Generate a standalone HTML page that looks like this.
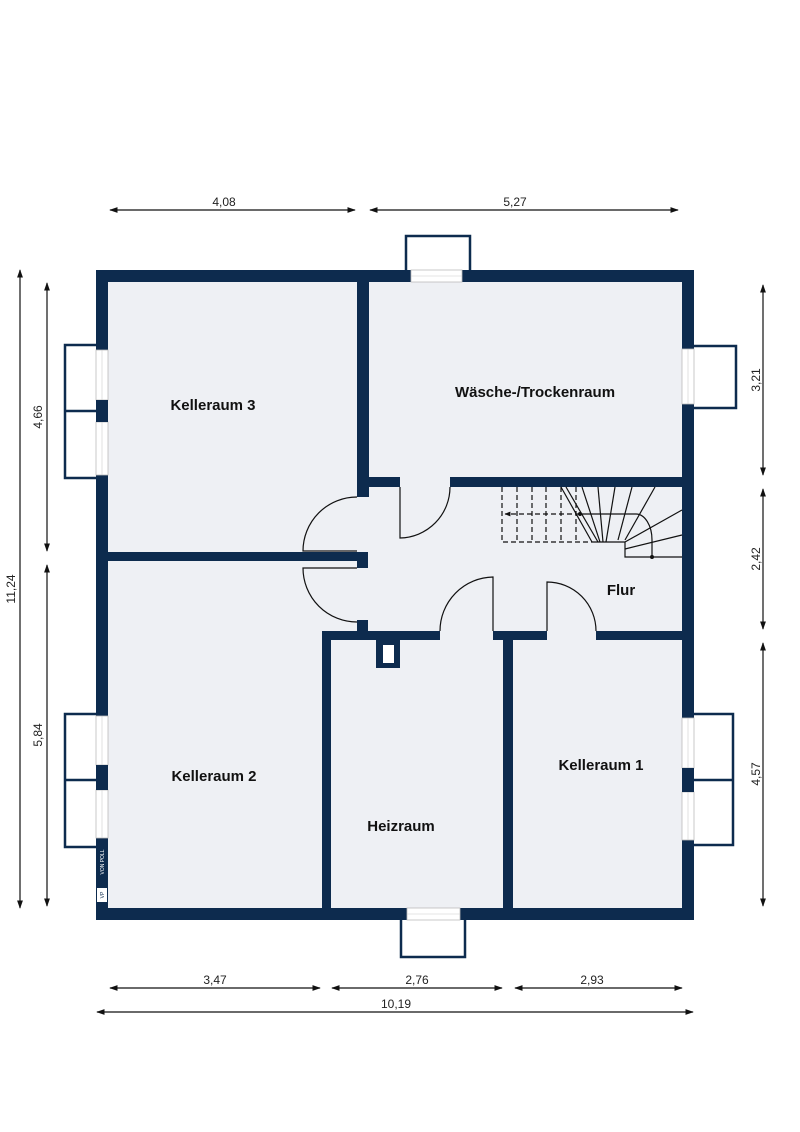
<!DOCTYPE html>
<html><head><meta charset="utf-8"><style>
html,body{margin:0;padding:0;background:#fff}
svg{display:block}
text{font-family:"Liberation Sans",sans-serif}
.lbl{font-size:15px;font-weight:bold;fill:#111;text-anchor:middle}
.dim{font-size:12px;fill:#222;text-anchor:middle}
</style></head><body>
<svg width="800" height="1132" viewBox="0 0 800 1132" xmlns="http://www.w3.org/2000/svg">
<defs>
<marker id="a" viewBox="0 0 10 10" refX="9" refY="5" markerWidth="7" markerHeight="7" orient="auto-start-reverse"><path d="M0,1.5 L10,5 L0,8.5 z" fill="#111"/></marker>
<marker id="b" viewBox="0 0 10 10" refX="9" refY="5" markerWidth="5" markerHeight="5" orient="auto"><path d="M0,1 L10,5 L0,9 z" fill="#111"/></marker>
</defs>
<rect x="96" y="270" width="598" height="650" fill="#0d2b4e"/>
<rect x="108" y="282" width="574" height="626" fill="#eef0f4"/>
<g fill="#0d2b4e">
<rect x="357" y="282" width="12" height="215"/>
<rect x="108" y="552" width="260" height="9"/>
<rect x="357" y="552" width="11" height="16"/>
<rect x="357" y="620" width="11" height="20"/>
<rect x="368" y="477" width="32" height="10"/>
<rect x="450" y="477" width="232" height="10"/>
<rect x="322" y="631" width="118" height="9"/>
<rect x="493" y="631" width="54" height="9"/>
<rect x="596" y="631" width="86" height="9"/>
<rect x="322" y="631" width="9" height="277"/>
<rect x="503" y="631" width="10" height="277"/>
<rect x="376" y="640" width="24" height="28"/>
</g>
<rect x="383" y="645" width="11" height="18" fill="#fff"/>
<g fill="none" stroke="#111" stroke-width="1.2">
<path d="M400,487 L400,538 A51,51 0 0 0 450,487"/>
<path d="M357,497 A54,54 0 0 0 303,551 L357,551"/>
<path d="M357,622 A54,54 0 0 1 303,568 L357,568"/>
<path d="M493,631 L493,577 A54,54 0 0 0 440,631"/>
<path d="M547,631 L547,582 A49,49 0 0 1 596,631"/>
</g>
<g fill="none" stroke="#111" stroke-width="1.2">
<g stroke-dasharray="5,3">
<path d="M502,487 L502,542 L592,542"/>
<line x1="517" y1="487" x2="517" y2="542"/><line x1="532" y1="487" x2="532" y2="542"/>
<line x1="546" y1="487" x2="546" y2="542"/><line x1="561" y1="487" x2="561" y2="542"/>
<line x1="576" y1="487" x2="576" y2="542"/>
<line x1="580" y1="514" x2="505" y2="514" marker-end="url(#b)"/>
</g>
<line x1="561" y1="487" x2="592" y2="542"/>
<line x1="566" y1="487" x2="598" y2="542"/>
<line x1="582" y1="487" x2="600" y2="542"/>
<line x1="598" y1="487" x2="603" y2="542"/>
<line x1="615" y1="487" x2="606" y2="542"/>
<line x1="632" y1="487" x2="618" y2="540"/>
<line x1="655" y1="487" x2="625" y2="540"/>
<line x1="682" y1="510" x2="625" y2="542"/>
<line x1="682" y1="535" x2="625" y2="549"/>
<path d="M592,542 L625,542 L625,557 L682,557"/>
<path d="M580,514 L636,514 A16,26 0 0 1 652,540 L652,557"/>
</g>
<circle cx="580" cy="514" r="2" fill="#111"/>
<circle cx="652" cy="557" r="2" fill="#111"/>
<g fill="#fff" stroke="#bbb" stroke-width="0.8">
<rect x="411" y="270" width="51" height="12"/>
<rect x="682" y="349" width="12" height="55"/>
<rect x="96" y="350" width="12" height="50"/>
<rect x="96" y="422" width="12" height="53"/>
<rect x="96" y="716" width="12" height="49"/>
<rect x="96" y="790" width="12" height="48"/>
<rect x="682" y="718" width="12" height="50"/>
<rect x="682" y="792" width="12" height="48"/>
<rect x="407" y="908" width="53" height="12"/>
</g>
<g stroke="#ccc" stroke-width="0.6">
<line x1="411" y1="276" x2="462" y2="276"/><line x1="688" y1="349" x2="688" y2="404"/>
<line x1="102" y1="350" x2="102" y2="475"/><line x1="102" y1="716" x2="102" y2="838"/>
<line x1="688" y1="718" x2="688" y2="840"/><line x1="407" y1="914" x2="460" y2="914"/>
</g>
<g fill="#0d2b4e"><rect x="96" y="400" width="12" height="22"/><rect x="96" y="765" width="12" height="25"/><rect x="682" y="768" width="12" height="24"/></g>
<g fill="none" stroke="#0d2b4e" stroke-width="2.5">
<path d="M406,270 L406,236 L470,236 L470,270"/>
<path d="M694,346 L736,346 L736,408 L694,408"/>
<path d="M96,345 L65,345 L65,478 L96,478 M65,411 L96,411"/>
<path d="M96,714 L65,714 L65,847 L96,847 M65,780 L96,780"/>
<path d="M694,714 L733,714 L733,845 L694,845 M694,780 L733,780"/>
<path d="M401,920 L401,957 L465,957 L465,920"/>
</g>
<rect x="97" y="888" width="10" height="14" fill="#fff"/>
<text x="104" y="895" font-size="5" fill="#0d2b4e" transform="rotate(-90 104 895)" text-anchor="middle">VP</text>
<text x="104" y="862" font-size="5" fill="#fff" transform="rotate(-90 104 862)" text-anchor="middle">VON POLL</text>
<text class="lbl" x="213" y="410">Kelleraum 3</text>
<text class="lbl" x="535" y="397">Wäsche-/Trockenraum</text>
<text class="lbl" x="621" y="595">Flur</text>
<text class="lbl" x="214" y="781">Kelleraum 2</text>
<text class="lbl" x="401" y="831">Heizraum</text>
<text class="lbl" x="601" y="770">Kelleraum 1</text>
<g stroke="#111" stroke-width="1.2" marker-start="url(#a)" marker-end="url(#a)">
<line x1="110" y1="210" x2="355" y2="210"/>
<line x1="370" y1="210" x2="678" y2="210"/>
<line x1="20" y1="270" x2="20" y2="908"/>
<line x1="47" y1="283" x2="47" y2="551"/>
<line x1="47" y1="565" x2="47" y2="906"/>
<line x1="763" y1="285" x2="763" y2="475"/>
<line x1="763" y1="489" x2="763" y2="629"/>
<line x1="763" y1="643" x2="763" y2="906"/>
<line x1="110" y1="988" x2="320" y2="988"/>
<line x1="332" y1="988" x2="502" y2="988"/>
<line x1="515" y1="988" x2="682" y2="988"/>
<line x1="97" y1="1012" x2="693" y2="1012"/>
</g>
<text class="dim" x="224" y="206">4,08</text>
<text class="dim" x="515" y="206">5,27</text>
<text class="dim" x="215" y="984">3,47</text>
<text class="dim" x="417" y="984">2,76</text>
<text class="dim" x="592" y="984">2,93</text>
<text class="dim" x="396" y="1008">10,19</text>
<text class="dim" transform="translate(15,589) rotate(-90)">11,24</text>
<text class="dim" transform="translate(42,417) rotate(-90)">4,66</text>
<text class="dim" transform="translate(42,735) rotate(-90)">5,84</text>
<text class="dim" transform="translate(760,380) rotate(-90)">3,21</text>
<text class="dim" transform="translate(760,559) rotate(-90)">2,42</text>
<text class="dim" transform="translate(760,774) rotate(-90)">4,57</text>
</svg>
</body></html>
